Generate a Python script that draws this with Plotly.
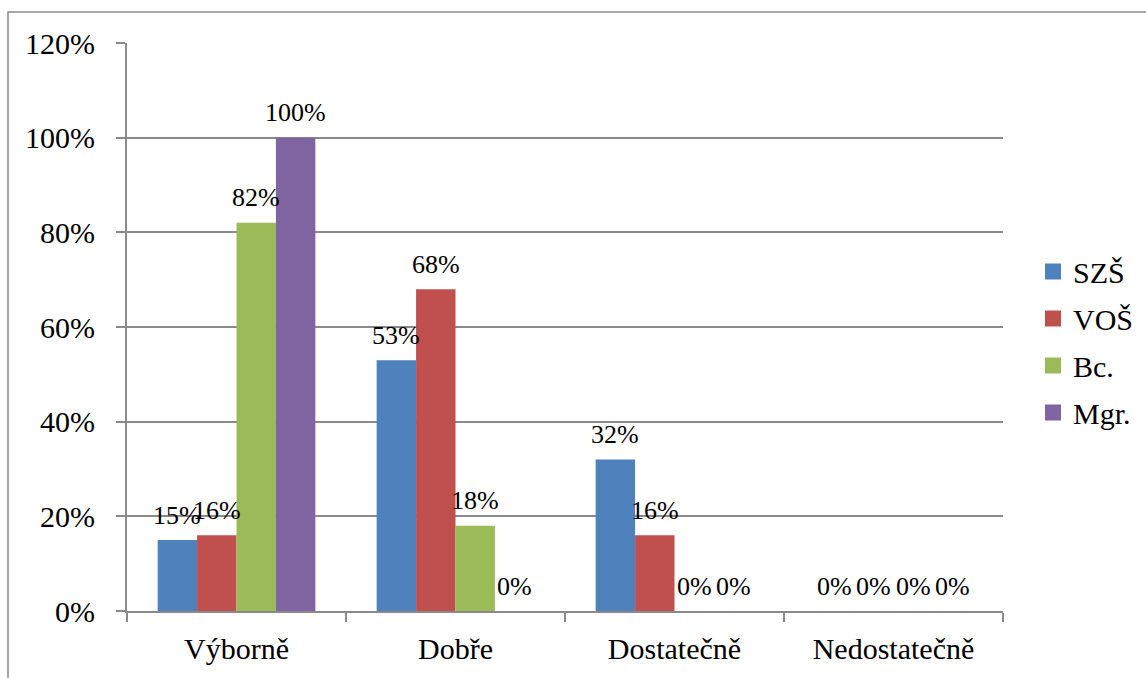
import plotly.graph_objects as go

categories = ["Výborně", "Dobře", "Dostatečně", "Nedostatečně"]
series_names = ["SZŠ", "VOŠ", "Bc.", "Mgr."]
szs = [15, 53, 32, 0]
vos = [16, 68, 16, 0]
bc = [82, 18, 0, 0]
mgr = [100, 0, 0, 0]
y_ticks = [0, 20, 40, 60, 80, 100, 120]
y_tick_labels = ["0%", "20%", "40%", "60%", "80%", "100%", "120%"]

colors = ["#4F81BD", "#C0504D", "#9BBB59", "#8064A2"]
series_values = [szs, vos, bc, mgr]

W, H = 1146, 678
ML, MR, MT, MB = 127, 143, 43, 67
plot_w = W - ML - MR
plot_h = H - MT - MB
bargap = 0.28
font_fam = "Liberation Serif"

fig = go.Figure()
for name, vals, col in zip(series_names, series_values, colors):
    fig.add_trace(go.Bar(x=categories, y=vals, name=name, marker=dict(color=col, line=dict(width=0)),
                         showlegend=False))
    # legend entry with larger square marker
    fig.add_trace(go.Scatter(x=[None], y=[None], mode="markers", name=name, legendgroup=name,
                             marker=dict(symbol="square", size=17, color=col)))

# data labels
cat_w = plot_w / len(categories)
bar_w = cat_w * (1 - bargap) / len(series_names)
n = len(series_names)
for i, vals in enumerate(series_values):
    for c, v in zip(categories, vals):
        fig.add_annotation(x=c, y=v, text=f"{v}%", showarrow=False,
                           xshift=(i - (n - 1) / 2) * bar_w, yshift=25,
                           yanchor="middle", xanchor="center",
                           font=dict(family=font_fam, size=26, color="black"))

# outer chart frame
fig.add_shape(type="rect", xref="paper", yref="paper",
              x0=(8 - ML) / plot_w, x1=1.3, y0=-0.3, y1=(H - MB - 12) / plot_h,
              line=dict(color="#8a8a8a", width=1.5), fillcolor="rgba(0,0,0,0)", layer="below")

fig.update_layout(
    width=W, height=H,
    margin=dict(l=ML, r=MR, t=MT, b=MB, autoexpand=False),
    paper_bgcolor="white", plot_bgcolor="white",
    barmode="group", bargap=bargap, bargroupgap=0,
    font=dict(family=font_fam, size=30, color="black"),
    legend=dict(x=(1033 - ML) / plot_w, xanchor="left", y=(H - MB - 342) / plot_h, yanchor="middle",
                font=dict(family=font_fam, size=30, color="black"), traceorder="grouped", tracegroupgap=5,
                itemwidth=30, bgcolor="rgba(0,0,0,0)"),
    xaxis=dict(type="category", showline=True, linecolor="#8a8a8a", linewidth=2,
               ticks="outside", tickson="boundaries", ticklen=9, tickcolor="#8a8a8a", tickwidth=1.5,
               showgrid=False, ticklabelstandoff=10,
               tickfont=dict(family=font_fam, size=30, color="black")),
    yaxis=dict(range=[0, 120], tickvals=y_ticks, ticktext=y_tick_labels,
               showline=True, linecolor="#8a8a8a", linewidth=2,
               ticks="outside", ticklen=9, tickcolor="#8a8a8a", tickwidth=1.5,
               showgrid=True, gridcolor="#8a8a8a", gridwidth=2, zeroline=False,
               ticklabelstandoff=15, tickfont=dict(family=font_fam, size=30, color="black")),
)

fig.write_html("out.html")
